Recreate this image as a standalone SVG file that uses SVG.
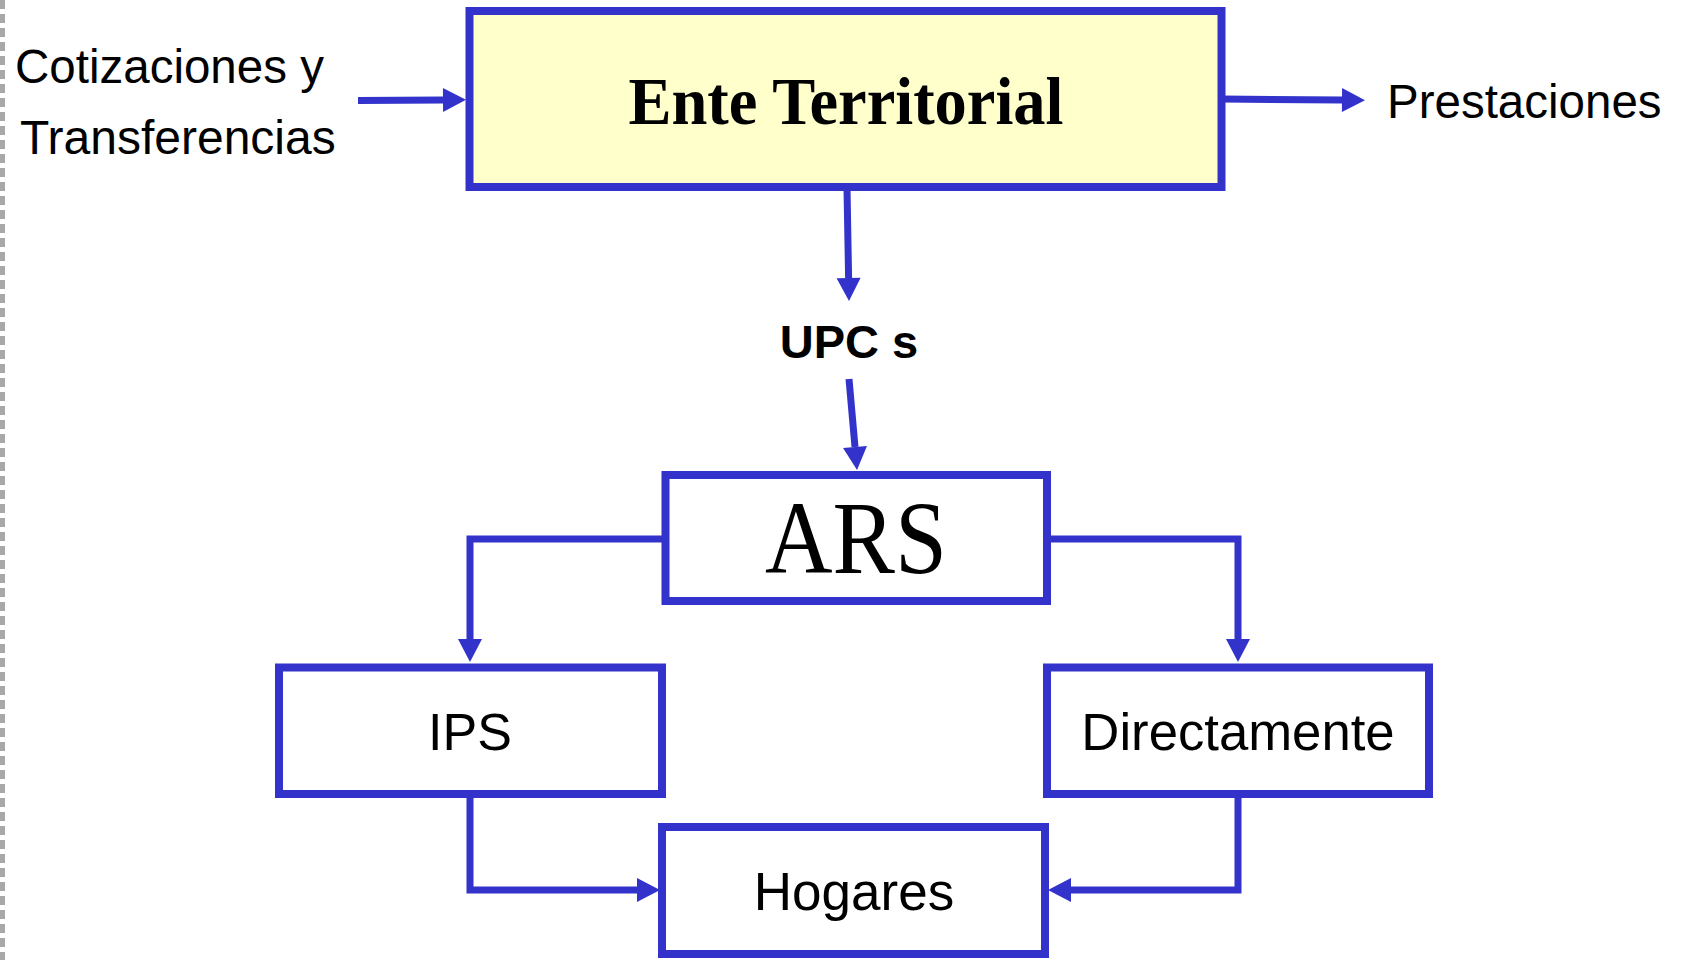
<svg xmlns="http://www.w3.org/2000/svg" width="1687" height="960" viewBox="0 0 1687 960">
<style>
.box{stroke:#3333cc;stroke-width:8;fill:#ffffff}
.conn{stroke:#3333cc;stroke-width:7;fill:none;stroke-linejoin:miter}
.sans{font-family:"Liberation Sans",Arial,sans-serif;fill:#000}
.serif{font-family:"Liberation Serif","Times New Roman",serif;fill:#000}
</style>
<defs>
<marker id="ah" markerUnits="userSpaceOnUse" markerWidth="30" markerHeight="30" refX="0" refY="0" viewBox="0 -15 30 30" orient="auto" overflow="visible">
<path d="M0,-12 L23,0 L0,12 z" fill="#3333cc"/>
</marker>
</defs>
<rect width="1687" height="960" fill="#ffffff"/>
<line x1="2.5" y1="0" x2="2.5" y2="960" stroke="#a8a8a8" stroke-width="5" stroke-dasharray="9 5"/>
<g id="connectors">
<line class="conn" x1="358" y1="100.5" x2="443" y2="100" marker-end="url(#ah)"/>
<line class="conn" x1="1222" y1="99" x2="1342" y2="100" marker-end="url(#ah)"/>
<line class="conn" x1="847" y1="188" x2="848.6" y2="278" marker-end="url(#ah)"/>
<line class="conn" x1="849" y1="379" x2="855" y2="447" marker-end="url(#ah)"/>
<path class="conn" d="M664,539 H470 V639" marker-end="url(#ah)"/>
<path class="conn" d="M1049,539 H1238 V639" marker-end="url(#ah)"/>
<path class="conn" d="M470,796 V890 H637" marker-end="url(#ah)"/>
<path class="conn" d="M1238,796 V890 H1071" marker-end="url(#ah)"/>
</g>
<g id="cotizaciones">
<text class="sans" x="15" y="83" font-size="47.5">Cotizaciones y</text>
<text class="sans" x="20" y="154" font-size="48">Transferencias</text>
</g>
<g id="ente">
<rect class="box" x="469.5" y="11" width="752" height="176" style="fill:#ffffcc"/>
<text class="serif" x="846" y="124" font-size="68" font-weight="bold" text-anchor="middle" textLength="435" lengthAdjust="spacingAndGlyphs">Ente Territorial</text>
</g>
<g id="prestaciones">
<text class="sans" x="1387" y="118" font-size="47.5">Prestaciones</text>
</g>
<g id="upcs">
<text class="sans" x="849" y="358" font-size="47" font-weight="bold" text-anchor="middle">UPC s</text>
</g>
<g id="ars">
<rect class="box" x="665.5" y="475" width="381.5" height="126"/>
<text class="serif" x="856" y="573" font-size="103" text-anchor="middle" textLength="182" lengthAdjust="spacingAndGlyphs">ARS</text>
</g>
<g id="ips">
<rect class="box" x="279" y="667.5" width="383" height="126.5"/>
<text class="sans" x="470" y="750" font-size="52" text-anchor="middle">IPS</text>
</g>
<g id="directamente">
<rect class="box" x="1047" y="667.5" width="382" height="126.5"/>
<text class="sans" x="1238" y="750" font-size="52.7" text-anchor="middle">Directamente</text>
</g>
<g id="hogares">
<rect class="box" x="662" y="827" width="383" height="127"/>
<text class="sans" x="854" y="910" font-size="53" text-anchor="middle">Hogares</text>
</g>
</svg>
